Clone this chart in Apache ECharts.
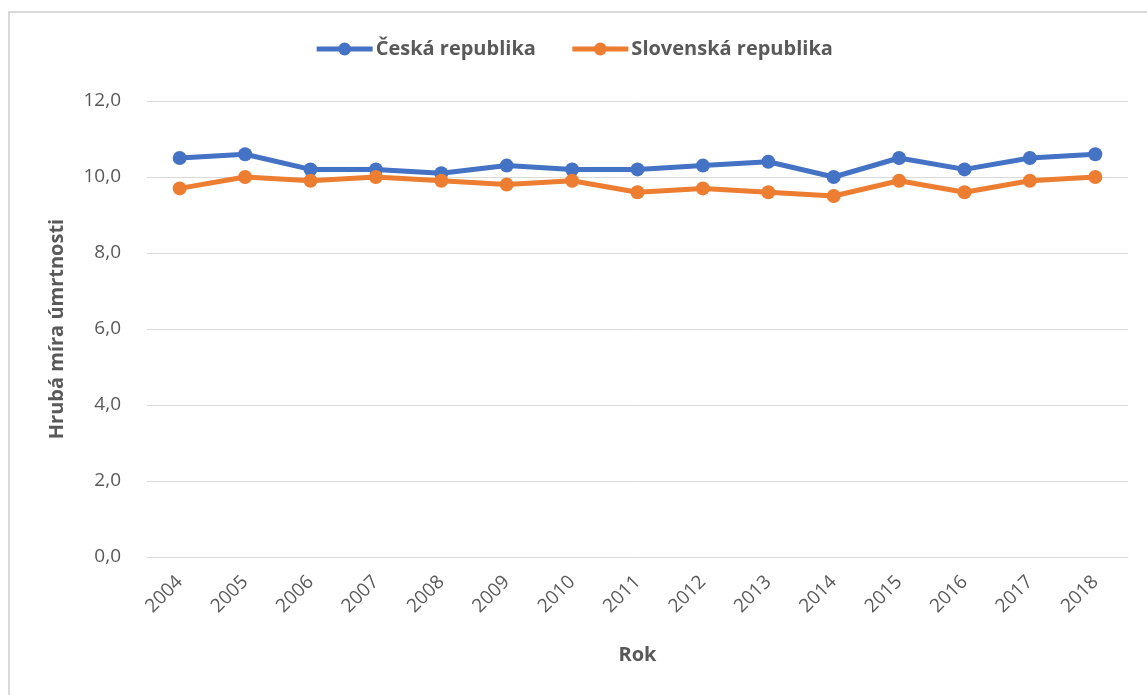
<!DOCTYPE html>
<html>
<head>
<meta charset="utf-8">
<script src="https://cdn.jsdelivr.net/npm/echarts@6/dist/echarts.min.js"></script>
<style>
  html, body { margin: 0; padding: 0; background: #fff; }
  #frame { position: absolute; left: 8px; top: 11px; width: 1160px; height: 700px;
           border-left: 2px solid #d9d9d9; border-top: 2px solid #d9d9d9; box-sizing: border-box; }
  #chart { position: absolute; left: 0; top: 0; width: 1147px; height: 695px; }
</style>
</head>
<body>
<div id="frame"></div>
<div id="chart"></div>
<script>
// Hrubá míra úmrtnosti, 2004–2018
const years = ['2004','2005','2006','2007','2008','2009','2010','2011','2012','2013','2014','2015','2016','2017','2018'];
const ceskaRepublika = [10.5, 10.6, 10.2, 10.2, 10.1, 10.3, 10.2, 10.2, 10.3, 10.4, 10.0, 10.5, 10.2, 10.5, 10.6];
const slovenskaRepublika = [9.7, 10.0, 9.9, 10.0, 9.9, 9.8, 9.9, 9.6, 9.7, 9.6, 9.5, 9.9, 9.6, 9.9, 10.0];

const textColor = '#595959';
const font = '"Open Sans", "Liberation Sans", sans-serif';

const chart = echarts.init(document.getElementById('chart'));
chart.setOption({
  animation: false,
  textStyle: { fontFamily: font },
  legend: {
    top: 34,
    left: 'center',
    itemWidth: 56,
    itemHeight: 16,
    itemGap: 34,
    lineStyle: { width: 5 },
    textStyle: { color: textColor, fontSize: 20, fontWeight: 'bold', fontFamily: font, padding: [0, 0, 0, -2] },
    data: ['Česká republika', 'Slovenská republika']
  },
  grid: { left: 147, right: 19, top: 101, bottom: 138, containLabel: false },
  xAxis: {
    type: 'category',
    data: years,
    boundaryGap: true,
    name: 'Rok',
    nameLocation: 'middle',
    nameGap: 88,
    nameTextStyle: { color: textColor, fontSize: 20, fontWeight: 'bold' },
    axisLine: { show: true, lineStyle: { color: '#d9d9d9', width: 1 } },
    axisTick: { show: false },
    axisLabel: { color: textColor, fontSize: 19, rotate: 45, margin: 22, interval: 0 }
  },
  yAxis: {
    type: 'value',
    min: 0, max: 12, interval: 2,
    name: 'Hrubá míra úmrtnosti',
    nameLocation: 'middle',
    nameGap: 80,
    nameTextStyle: { color: textColor, fontSize: 20, fontWeight: 'bold' },
    axisLine: { show: false },
    axisTick: { show: false },
    axisLabel: { color: textColor, fontSize: 19, margin: 26,
                 formatter: v => v.toFixed(1).replace('.', ',') },
    splitLine: { lineStyle: { color: '#d9d9d9', width: 1 } }
  },
  series: [
    {
      name: 'Česká republika', type: 'line', data: ceskaRepublika,
      symbol: 'circle', symbolSize: 14,
      lineStyle: { color: '#4472C4', width: 5 },
      itemStyle: { color: '#4472C4' }
    },
    {
      name: 'Slovenská republika', type: 'line', data: slovenskaRepublika,
      symbol: 'circle', symbolSize: 14,
      lineStyle: { color: '#ED7D31', width: 5 },
      itemStyle: { color: '#ED7D31' }
    }
  ]
});
</script>
</body>
</html>
